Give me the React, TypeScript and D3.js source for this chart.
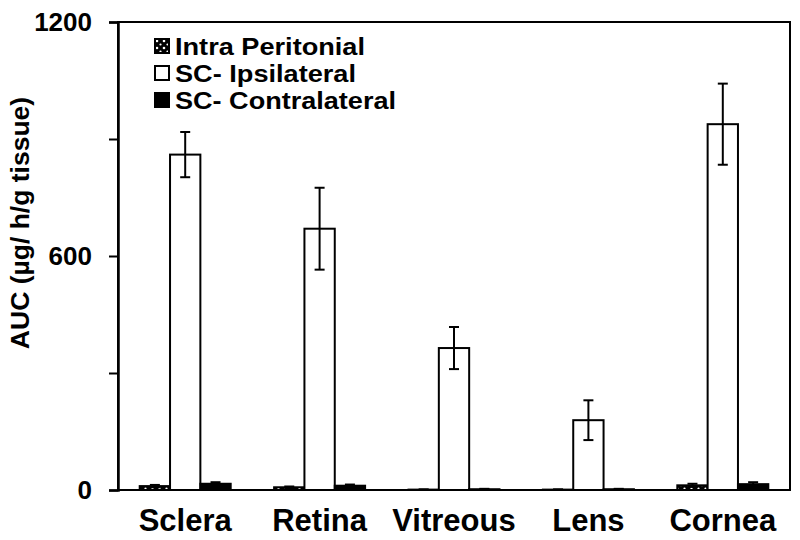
import React, { useEffect, useRef } from "react";
import * as d3 from "d3";

const categories = ["Sclera", "Retina", "Vitreous", "Lens", "Cornea"];
const seriesNames = ["Intra Peritonial", "SC- Ipsilateral", "SC- Contralateral"];

// AUC values (µg h/g tissue)
const intraPeritonial = [10, 7, 1, 1, 12];
const intraPeritonialErr = [3, 2, 0.5, 0.5, 4];
const ipsilateral = [860, 670, 364, 179, 938];
const ipsilateralErr = [58, 105, 54, 51, 104];
const contralateral = [16, 11, 2, 2, 15];
const contralateralErr = [4, 3, 1, 1, 5];

const yTicks = [0, 300, 600, 900, 1200];
const yLabels = [0, 600, 1200];

// the legend text in the figure is a little wider than plain Arial
const legendWidths = [190, 181, 221];

const FONT = "Arial, 'Liberation Sans', sans-serif";

export default function App() {
  const ref = useRef<SVGSVGElement>(null);

  useEffect(() => {
    const svg = d3.select(ref.current);
    svg.selectAll("*").remove();

    const margin = { top: 22, right: 10, bottom: 50, left: 118 };
    const width = 800;
    const height = 540;

    const x0 = d3.scaleBand()
      .domain(categories)
      .range([margin.left, width - margin.right])
      .paddingInner(0.323)
      .paddingOuter(0.1615);
    const x1 = d3.scaleBand()
      .domain(seriesNames)
      .range([0, x0.bandwidth()]);
    const y = d3.scaleLinear().domain([0, 1200]).range([height - margin.bottom, margin.top]);

    // dotted pattern for intra peritonial
    const defs = svg.append("defs");
    const pat = defs.append("pattern")
      .attr("id", "ipPattern")
      .attr("patternUnits", "userSpaceOnUse")
      .attr("width", 7)
      .attr("height", 7);
    pat.append("rect").attr("width", 7).attr("height", 7).attr("fill", "#000");
    pat.append("circle").attr("cx", 2).attr("cy", 2).attr("r", 1.3).attr("fill", "#fff");
    pat.append("circle").attr("cx", 5.5).attr("cy", 5.5).attr("r", 1.1).attr("fill", "#fff");

    const fills = ["url(#ipPattern)", "#fff", "#000"];
    const series = [
      { name: seriesNames[0], values: intraPeritonial, errs: intraPeritonialErr },
      { name: seriesNames[1], values: ipsilateral, errs: ipsilateralErr },
      { name: seriesNames[2], values: contralateral, errs: contralateralErr },
    ];

    // bars
    series.forEach((s, si) => {
      const g = svg.append("g");
      g.selectAll("rect")
        .data(categories)
        .join("rect")
        .attr("x", (c) => x0(c)! + x1(s.name)!)
        .attr("y", (c, i) => y(s.values[i]))
        .attr("width", x1.bandwidth())
        .attr("height", (c, i) => y(0) - y(s.values[i]))
        .attr("fill", fills[si])
        .attr("stroke", "#000")
        .attr("stroke-width", 2);

      // error bars
      const eg = svg.append("g").attr("stroke", "#000").attr("stroke-width", 2);
      categories.forEach((c, i) => {
        const cx = x0(c)! + x1(s.name)! + x1.bandwidth() / 2;
        const top = y(s.values[i] + s.errs[i]);
        const bot = y(Math.max(0, s.values[i] - s.errs[i]));
        eg.append("line").attr("x1", cx).attr("x2", cx).attr("y1", top).attr("y2", bot);
        eg.append("line").attr("x1", cx - 5).attr("x2", cx + 5).attr("y1", top).attr("y2", top);
        eg.append("line").attr("x1", cx - 5).attr("x2", cx + 5).attr("y1", bot).attr("y2", bot);
      });
    });

    // frame
    svg.append("rect")
      .attr("x", margin.left)
      .attr("y", margin.top)
      .attr("width", width - margin.right - margin.left)
      .attr("height", y(0) - margin.top)
      .attr("fill", "none")
      .attr("stroke", "#000")
      .attr("stroke-width", 2);

    // y axis
    const yAxis = svg.append("g")
      .attr("transform", `translate(${margin.left},0)`)
      .call(d3.axisLeft(y).tickValues(yTicks).tickSize(9).tickFormat((d) => (yLabels.includes(+d) ? String(d) : "")));
    yAxis.select(".domain").attr("stroke-width", 2.5);
    yAxis.selectAll(".tick line").attr("stroke-width", 2);
    yAxis.selectAll(".tick text")
      .attr("x", -26)
      .style("font-family", FONT)
      .style("font-size", "26px")
      .style("font-weight", "bold")
      .attr("fill", "#000");

    // x labels
    svg.append("g")
      .selectAll("text")
      .data(categories)
      .join("text")
      .attr("x", (c) => x0(c)! + x0.bandwidth() / 2)
      .attr("y", 531)
      .attr("text-anchor", "middle")
      .style("font-family", FONT)
      .style("font-size", "31px")
      .style("font-weight", "bold")
      .text((c) => c);

    // y title
    svg.append("text")
      .attr("transform", `translate(29, ${y(600) - 33}) rotate(-90)`)
      .attr("text-anchor", "middle")
      .style("font-family", FONT)
      .style("font-size", "26.5px")
      .style("font-weight", "bold")
      .text("AUC (µg/ h/g tissue)");

    // legend
    const lg = svg.append("g").attr("transform", "translate(155, 39)");
    seriesNames.forEach((name, i) => {
      const row = lg.append("g").attr("transform", `translate(0, ${i * 27})`);
      row.append("rect")
        .attr("x", 0)
        .attr("y", 0)
        .attr("width", 14)
        .attr("height", 14)
        .attr("fill", fills[i])
        .attr("stroke", "#000")
        .attr("stroke-width", 2);
      row.append("text")
        .attr("x", 20)
        .attr("y", 16)
        .attr("textLength", legendWidths[i])
        .attr("lengthAdjust", "spacingAndGlyphs")
        .style("font-family", FONT)
        .style("font-size", "23px")
        .style("font-weight", "bold")
        .text(name);
    });
  }, []);

  return (
    <svg
      ref={ref}
      width={800}
      height={540}
      style={{ position: "absolute", left: 0, top: 0, background: "#fff" }}
    />
  );
}
